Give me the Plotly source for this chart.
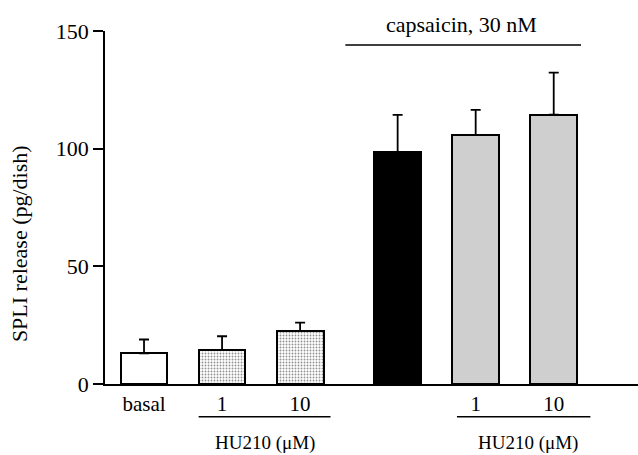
import plotly.graph_objects as go

# ---- data ----
categories = ["basal", "HU210 1", "HU210 10", "capsaicin", "capsaicin + HU210 1", "capsaicin + HU210 10"]
positions = [0, 1, 2, 3.25, 4.25, 5.25]
values = [13.0, 14.4, 22.6, 98.6, 105.8, 114.5]
errors = [5.9, 5.9, 3.5, 15.8, 10.7, 17.8]
tick_labels = ["basal", "1", "10", "", "1", "10"]
y_ticks = [0, 50, 100, 150]

FONT = "Liberation Serif"
FS = 20

styles = [
    dict(color="white", pattern=None),
    dict(color="white", pattern=dict(shape=".", fgcolor="#222222", bgcolor="white", size=3, solidity=0.3)),
    dict(color="white", pattern=dict(shape=".", fgcolor="#222222", bgcolor="white", size=3, solidity=0.3)),
    dict(color="black", pattern=None),
    dict(color="white", pattern=dict(shape=".", fgcolor="#777777", bgcolor="#e4e4e4", size=2, solidity=0.4)),
    dict(color="white", pattern=dict(shape=".", fgcolor="#777777", bgcolor="#e4e4e4", size=2, solidity=0.4)),
]

fig = go.Figure()
for i in range(len(values)):
    marker = dict(color=styles[i]["color"], line=dict(color="black", width=2))
    if styles[i]["pattern"] is not None:
        marker["pattern"] = styles[i]["pattern"]
    fig.add_trace(go.Bar(
        x=[positions[i]], y=[values[i]], width=0.6, name=categories[i],
        marker=marker,
        error_y=dict(type="data", array=[errors[i]], arrayminus=[0], symmetric=False,
                     color="black", thickness=1.8, width=5),
        showlegend=False,
    ))

# group brackets
shapes = [
    dict(type="line", xref="x", yref="paper", x0=0.70, x1=2.39, y0=-0.093, y1=-0.093,
         line=dict(color="black", width=1.5)),
    dict(type="line", xref="x", yref="paper", x0=4.01, x1=5.72, y0=-0.093, y1=-0.093,
         line=dict(color="black", width=1.5)),
    dict(type="line", xref="x", yref="y", x0=2.58, x1=5.60, y0=144, y1=144,
         line=dict(color="black", width=1.5)),
]
annotations = [
    dict(text="HU210 (μM)", xref="x", yref="paper", x=1.55, y=-0.167, showarrow=False,
         font=dict(family=FONT, size=19, color="black"), yanchor="middle"),
    dict(text="HU210 (μM)", xref="x", yref="paper", x=4.92, y=-0.167, showarrow=False,
         font=dict(family=FONT, size=19, color="black"), yanchor="middle"),
    dict(text="capsaicin, 30 nM", xref="x", yref="paper", x=4.07, y=1.017, showarrow=False,
         font=dict(family=FONT, size=22, color="black"), yanchor="middle"),
    dict(text="SPLI release (pg/dish)", xref="paper", yref="paper", x=-0.159, y=0.397,
         textangle=-90, showarrow=False, xanchor="center", yanchor="middle",
         font=dict(family=FONT, size=22, color="black")),
]

fig.update_layout(
    width=638, height=455,
    margin=dict(l=105, r=0, t=31, b=71),
    paper_bgcolor="white", plot_bgcolor="white",
    font=dict(family=FONT, size=FS, color="black"),
    bargap=0, shapes=shapes, annotations=annotations,
    xaxis=dict(range=[-0.5, 6.33], tickvals=positions, ticktext=tick_labels,
               tickfont=dict(size=21),
               showline=True, linecolor="black", linewidth=2, ticks="",
               showgrid=False, zeroline=False, fixedrange=True),
    yaxis=dict(range=[0, 150], tickvals=y_ticks, showline=True, linecolor="black",
               linewidth=1.5, ticks="outside", ticklen=10, tickwidth=1.5, tickcolor="black",
               tickfont=dict(size=22),
               showgrid=False, zeroline=False),
)

fig.write_html("out.html")
